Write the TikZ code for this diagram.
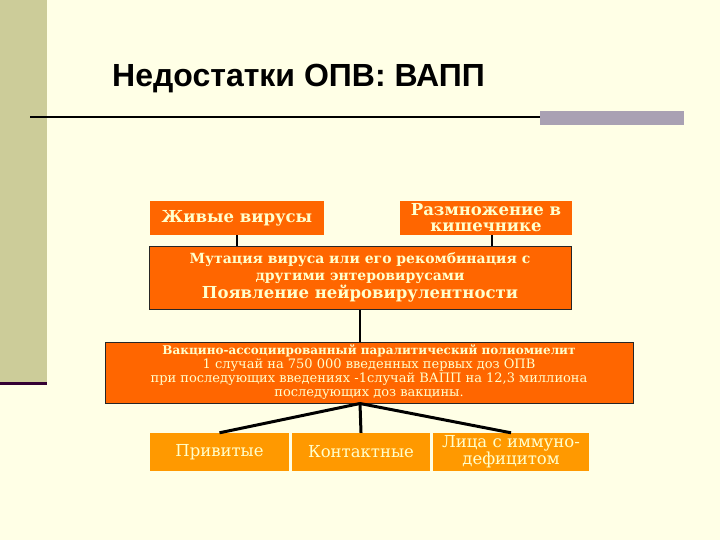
\documentclass[tikz,border=0pt]{standalone}
\usepackage{fontspec}
\setmainfont{DejaVu Serif}
\newfontfamily\titlefont{Liberation Sans}
\definecolor{bg}{HTML}{FFFFE6}
\definecolor{band}{HTML}{CCCC99}
\definecolor{bandline}{HTML}{330033}
\definecolor{bar}{HTML}{A9A1B3}
\definecolor{org}{HTML}{FF6600}
\definecolor{lorg}{HTML}{FF9900}
\definecolor{cream}{HTML}{FFFFCC}
\tikzset{
  box/.style={fill=org, text=cream, inner sep=0pt, align=center},
  framed/.style={box, draw=black!85, line width=1pt},
  lbox/.style={fill=lorg, text=cream, inner sep=0pt, align=center,
    font=\fontsize{16.5}{18}\selectfont},
  conn/.style={line width=2.5pt, draw=black},
  fanline/.style={line width=3pt, draw=black}
}
\begin{document}
\begin{tikzpicture}[x=1pt,y=-1pt]
\fill[bg] (0,0) rectangle (720,540);
\useasboundingbox (0,0) rectangle (720,540);
\fill[band] (0,0) rectangle (47,381.5);
\fill[bandline] (0,381.5) rectangle (47,385);
\node[anchor=base west, inner sep=0pt, font=\titlefont\fontsize{32}{36}\selectfont\bfseries] (title) at (112,87) {Недостатки ОПВ: ВАПП};
\coordinate (rl) at (30,117);
\coordinate (rr) at (540,117);
\draw[line width=2pt] (rl) -- (rr);
\fill[bar] (540,111.5) rectangle (684,125.5);

\node[box, minimum width=174pt, minimum height=34pt, font=\fontsize{16.5}{18}\selectfont\bfseries] (live) at (237,218) {\raisebox{-2pt}{Живые вирусы}};
\node[box, minimum width=172pt, minimum height=34pt, font=\fontsize{16.5}{16}\selectfont\bfseries] (mult) at (486,218) {Размножение в\\кишечнике};
\node[framed, minimum width=422pt, minimum height=63pt, font=\fontsize{14}{16.5}\selectfont\bfseries] (mut) at (360,277.5)
  {Мутация вируса или его рекомбинация с\\
   другими энтеровирусами\\[1pt]
   \fontsize{16.5}{18}\selectfont Появление нейровирулентности};
\node[framed, minimum width=528pt, minimum height=61pt, font=\fontsize{13}{14}\selectfont] (vapp) at (369,372.5)
  {\fontsize{12}{14}\selectfont\bfseries Вакцино-ассоциированный паралитический полиомиелит\\
   1 случай на 750 000 введенных первых доз ОПВ\\
   при последующих введениях -1случай ВАПП на 12,3 миллиона\\
   последующих доз вакцины.};
\node[lbox, minimum width=139pt, minimum height=38pt] (b1) at (219.5,452) {\raisebox{-3pt}{Привитые}};
\node[lbox, minimum width=138pt, minimum height=38pt] (b2) at (361,452) {\raisebox{-3pt}{Контактные}};
\node[lbox, minimum width=156pt, minimum height=38pt, font=\fontsize{16.5}{16}\selectfont] (b3) at (511,452) {Лица с иммуно-\\дефицитом};

\draw[conn] (live.south) -- (live.south |- mut.north);
\draw[conn] ([xshift=6pt]mult.south) -- ([xshift=6pt]mult.south |- mut.north);
\draw[conn] (mut.south) -- (mut.south |- vapp.north);
\coordinate (fan) at (mut.south |- vapp.south);
\draw[fanline] (fan) -- (b1.north);
\draw[fanline] (fan) -- (b2.north);
\draw[fanline] (fan) -- (b3.north);
\end{tikzpicture}
\end{document}
